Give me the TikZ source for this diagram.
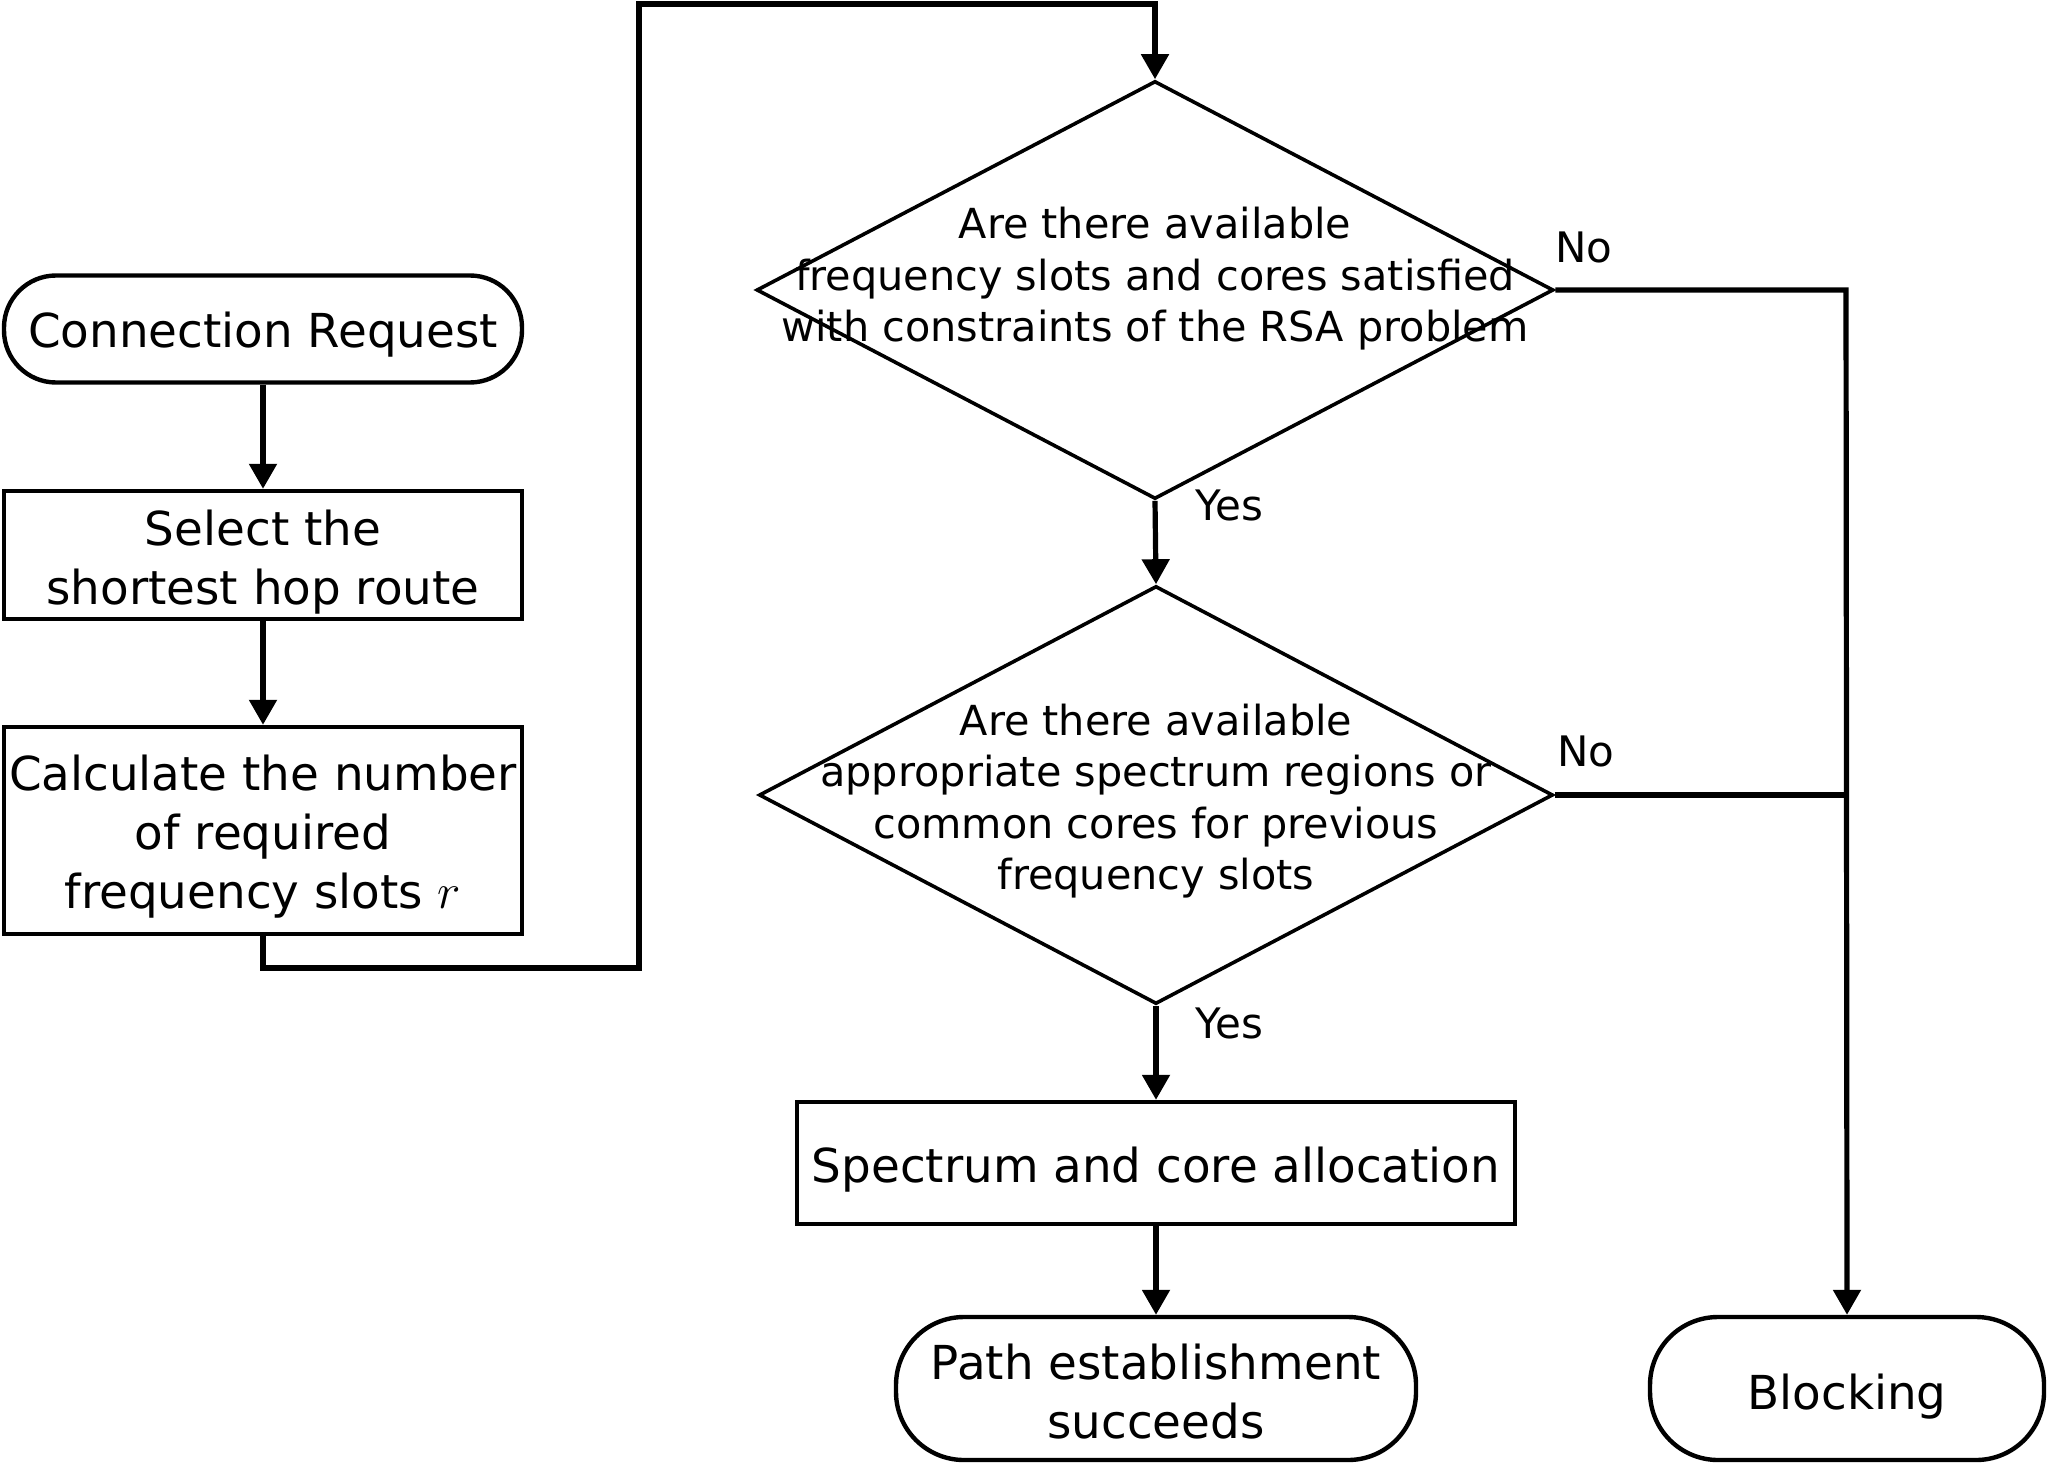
\documentclass[tikz,border=0pt]{standalone}
\usepackage{fontspec}
\setmainfont{DejaVu Sans}
\usetikzlibrary{arrows.meta,shapes.geometric}
\newcommand\myBig{\fontsize{23.4pt}{29.5pt}\selectfont}
\newcommand\myDia{\fontsize{20.7pt}{25.8pt}\selectfont}
\newcommand\myLab{\fontsize{21pt}{25pt}\selectfont}
\tikzset{
  boxshape/.style={draw, line width=2.2pt, inner sep=0pt},
  termshape/.style={boxshape, rounded corners=#1},
  boxtext/.style={align=center, font=\myBig, inner sep=0pt},
  diashape/.style={draw, diamond, line width=1.8pt, inner sep=0pt},
  diatext/.style={align=center, font=\myDia, inner sep=0pt},
  lab/.style={font=\myLab, inner sep=0pt},
  link/.style={line width=2.6pt},
  arr/.style={link, -{Triangle[length=12.5pt,width=13.5pt]}}
}
\begin{document}
\begin{tikzpicture}[x=0.5pt,y=-0.5pt]
\path[use as bounding box] (0,0) rectangle (2048,1465);

\node[termshape=26pt, minimum width=259pt, minimum height=53.5pt] (conn) at (263,329) {};
\node[boxtext] (connT) at ([yshift=-2.6pt]conn.center) {Connection Request};
\node[boxshape, minimum width=259pt, minimum height=64pt] (sel) at (263,555) {};
\node[boxtext] (selT) at ([yshift=-3.3pt]sel.center) {Select the\\shortest hop route};
\node[boxshape, minimum width=259pt, minimum height=103.5pt] (calc) at (263,830.5) {};
\node[boxtext] (calcT) at ([yshift=-3pt]calc.center) {Calculate the number\\of required\\frequency slots $r$};

\node[diashape, minimum width=398.5pt, minimum height=209pt] (d1) at (1155,290) {};
\node[diatext] (d1t) at ([yshift=-2.3pt]1155,274) {Are there available\\frequency slots and cores satisfied\\with constraints of the RSA problem};

\node[diashape, minimum width=397pt, minimum height=209pt] (d2) at (1156,795) {};
\node[diatext] (d2t) at ([yshift=-2pt]1156,797) {Are there available\\appropriate spectrum regions or\\common cores for previous\\frequency slots};

\node[boxshape, minimum width=359pt, minimum height=61pt] (alloc) at (1156,1163) {};
\node[boxtext] (allocT) at ([yshift=-3.3pt]alloc.center) {Spectrum and core allocation};
\node[termshape=34pt, minimum width=260pt, minimum height=71.5pt] (path) at (1156,1388.5) {};
\node[boxtext] (pathT) at ([yshift=-1.3pt]path.center) {Path establishment\\succeeds};
\node[termshape=34pt, minimum width=197pt, minimum height=71.5pt] (block) at (1847,1388.5) {};
\node[boxtext] (blockT) at ([yshift=-4pt]block.center) {Blocking};

\coordinate (b1) at (263,968);
\coordinate (b2) at (639,968);
\coordinate (b3) at (639,4);
\coordinate (b4) at (1155,4);
\coordinate (j1) at (1846,290);
\coordinate (j2) at (1846,795);

\draw[arr] (conn.south) -- (sel.north);
\draw[arr] (sel.south) -- (calc.north);
\draw[arr] (calc.south) -- (b1) -- (b2) -- (b3) -- (b4) -- (d1.north);
\draw[arr] (d1.south) -- (d2.north);
\draw[arr] (d2.south) -- (alloc.north);
\draw[arr] (alloc.south) -- (path.north);
\draw[arr] (d1.east) -- (j1) -- (block.north);
\draw[link] (d2.east) -- (j2);

\node[lab] (no1) at (1584,247) {No};
\node[lab] (no2) at (1586,751) {No};
\node[lab] (yes1) at (1229,505) {Yes};
\node[lab] (yes2) at (1229,1023) {Yes};
\end{tikzpicture}
\end{document}
